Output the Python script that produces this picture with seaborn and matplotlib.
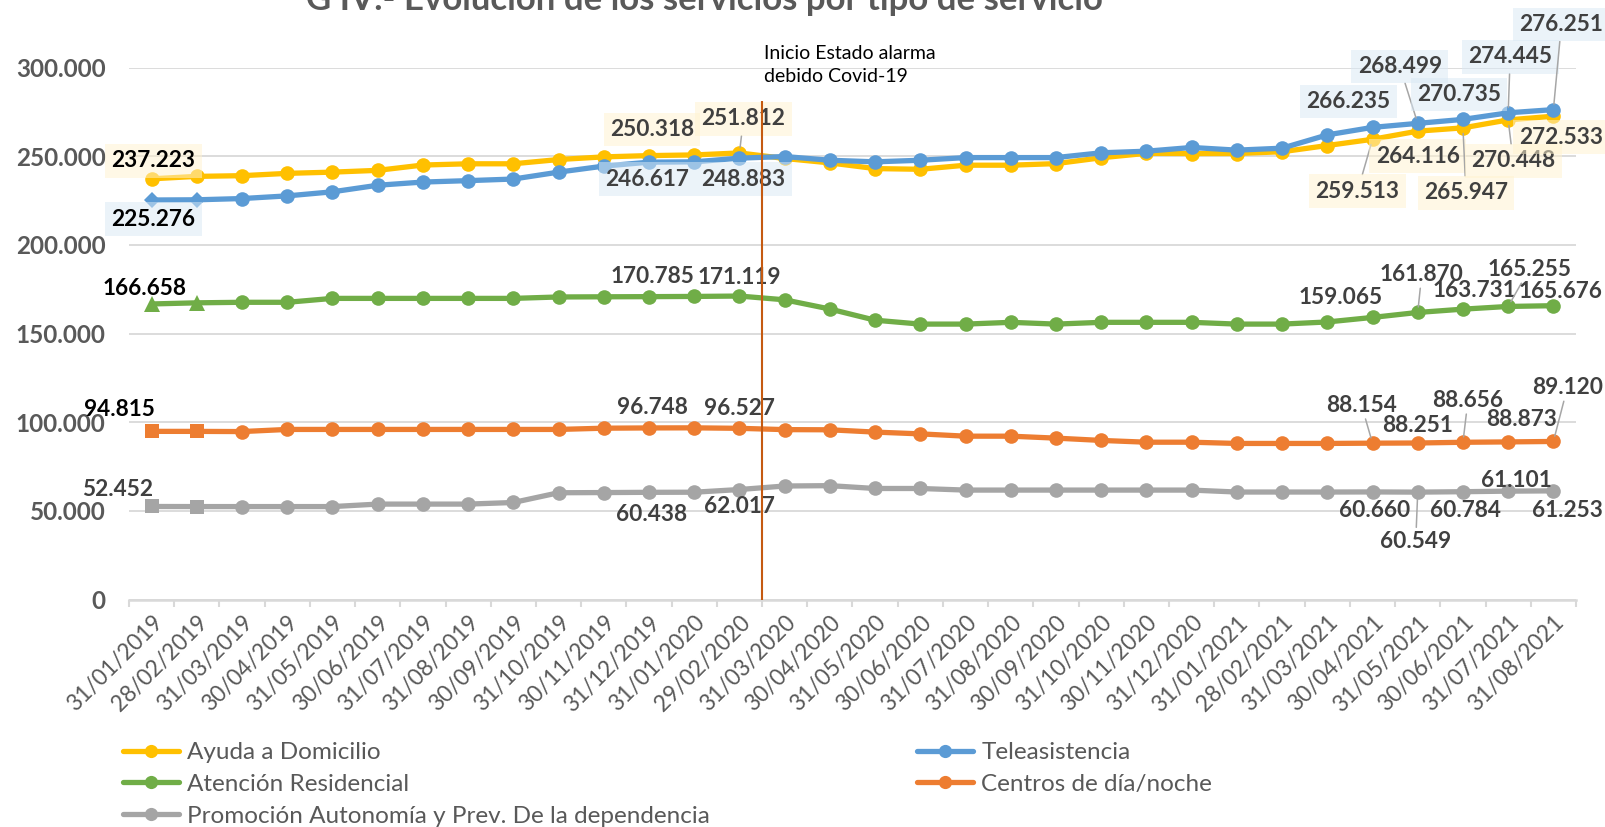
import numpy as np
import pandas as pd
import matplotlib
matplotlib.use('Agg')
import matplotlib.pyplot as plt
from matplotlib.lines import Line2D
import seaborn as sns

fechas = ['31/01/2019', '28/02/2019', '31/03/2019', '30/04/2019', '31/05/2019', '30/06/2019',
          '31/07/2019', '31/08/2019', '30/09/2019', '31/10/2019', '30/11/2019', '31/12/2019',
          '31/01/2020', '29/02/2020', '31/03/2020', '30/04/2020', '31/05/2020', '30/06/2020',
          '31/07/2020', '31/08/2020', '30/09/2020', '31/10/2020', '30/11/2020', '31/12/2020',
          '31/01/2021', '28/02/2021', '31/03/2021', '30/04/2021', '31/05/2021', '30/06/2021',
          '31/07/2021', '31/08/2021']

ayuda = [237223, 238600, 239000, 240300, 241000, 242000, 245000, 245700, 245700, 248100, 249600, 250318,
         250700, 251812, 248700, 246200, 243000, 242600, 244900, 244900, 245800, 249100, 251600, 251500,
         251500, 252500, 256000, 259513, 264116, 265947, 270448, 272533]
tele = [225276, 225400, 226100, 227600, 229900, 233600, 235400, 236200, 237100, 241000, 244400, 246617,
        246800, 248883, 249800, 247700, 246800, 247700, 249200, 249200, 249200, 251900, 252800, 254900,
        253400, 254500, 262000, 266235, 268499, 270735, 274445, 276251]
resid = [166658, 167300, 167600, 167600, 169800, 169800, 169800, 169800, 169800, 170600, 170700, 170785,
         170900, 171119, 169000, 163800, 157500, 155300, 155300, 156300, 155300, 156300, 156300, 156300,
         155300, 155300, 156500, 159065, 161870, 163731, 165255, 165676]
centros = [94815, 94800, 94700, 95900, 95900, 95900, 95900, 95900, 95900, 95900, 96600, 96748,
           96800, 96527, 95800, 95700, 94400, 93400, 92100, 92100, 91000, 89700, 88700, 88700,
           88000, 88000, 88000, 88154, 88251, 88656, 88873, 89120]
promo = [52452, 52400, 52400, 52400, 52400, 53800, 53800, 53800, 54700, 60200, 60300, 60438,
         60500, 62017, 64000, 64200, 62600, 62600, 61700, 61700, 61700, 61700, 61700, 61700,
         60600, 60600, 60600, 60660, 60549, 60784, 61101, 61253]

series = ['Ayuda a Domicilio', 'Teleasistencia', 'Atención Residencial', 'Centros de día/noche',
          'Promoción Autonomía y Prev. De la dependencia']
colors = ['#FFC000', '#5B9BD5', '#70AD47', '#ED7D31', '#A5A5A5']
first_markers = [('o', 10.5), ('D', 8.5), ('^', 11.5), ('s', 9.5), ('s', 9.5)]
box_colors = ['#FFF3CF', '#D9E8F5', None, None, None]

y_ticks = [0, 50000, 100000, 150000, 200000, 250000, 300000]

covid_x = 13.5
covid_top = 281000

# posición de las etiquetas en píxeles respecto al punto: idx -> (dx, dy, guía)
label_pos = [
    {0: (2, 18, False), 11: (3, 26, False), 13: (4, 34, True), 27: (-15, -52, True),
     28: (0, -25, False), 29: (3, -65, True), 30: (5, -41, True), 31: (8, -21, False)},
    {0: (2, -19, False), 11: (-2, -17, False), 13: (4, -21, False), 27: (-24, 26, False),
     28: (-18, 57, True), 29: (-4, 25, False), 30: (2, 56, True), 31: (8, 85, True)},
    {0: (-7, 15, False), 11: (3, 20, False), 13: (0, 19, False), 27: (-32, 20, False),
     28: (4, 38, True), 29: (11, 19, False), 30: (21, 37, True), 31: (7, 14, False)},
    {0: (-32, 22, False), 11: (3, 20, False), 13: (0, 20, False), 27: (-11, 38, True),
     28: (0, 18, False), 29: (5, 42, True), 30: (13, 22, False), 31: (14, 54, True)},
    {0: (-34, 17, False), 11: (3, -22, False), 13: (0, -17, False), 27: (2, -19, False),
     28: (-2, -49, True), 29: (3, -19, False), 30: (8, 11, False), 31: (14, -20, False)},
]

values = [ayuda, tele, resid, centros, promo]


def fmt(v):
    return f"{int(v):,}".replace(',', '.')


sns.set_theme(style='white')
plt.rcParams['font.family'] = ['Lato', 'DejaVu Sans']

fig = plt.figure(figsize=(16.06, 8.27), dpi=100)
ax = fig.add_axes([129 / 1606, 1 - 599.5 / 827, (1576 - 129) / 1606, (599.5 - 67.5) / 827])

n = len(fechas)
df = pd.DataFrame({
    'idx': np.tile(np.arange(n), len(series)),
    'valor': np.concatenate(values),
    'serie': np.repeat(series, n),
})
sns.lineplot(data=df, x='idx', y='valor', hue='serie', hue_order=series,
             palette=dict(zip(series, colors)), linewidth=3.8, sort=False,
             estimator=None, legend=False, ax=ax)
for k, line in enumerate(ax.lines):
    line.set_zorder(2 + k * 0.1)
    line.set_solid_capstyle('round')

x = np.arange(n)
for k, vals in enumerate(values):
    vals = np.array(vals)
    ax.plot(x[2:], vals[2:], 'o', ms=10.5, color=colors[k], mew=0, zorder=2.05 + k * 0.1)
    m, ms = first_markers[k]
    ax.plot(x[:2], vals[:2], m, ms=ms, color=colors[k], mew=0, zorder=2.05 + k * 0.1)

# etiquetas de datos
for k, vals in enumerate(values):
    for idx, (dx, dy, leader) in label_pos[k].items():
        col = 'black' if (idx == 0 and k < 4) else '#404040'
        bbox = None
        if box_colors[k]:
            bbox = dict(boxstyle='square,pad=0.28', fc=box_colors[k], ec='none', alpha=0.52)
        arrow = None
        if leader:
            arrow = dict(arrowstyle='-', color='#A6A6A6', lw=1.1, shrinkA=0, shrinkB=4)
        ax.annotate(fmt(vals[idx]), xy=(idx, vals[idx]), xytext=(dx, dy), textcoords='offset pixels',
                    ha='center', va='center', fontsize=16.3, fontweight='bold', color=col,
                    bbox=bbox, arrowprops=arrow, zorder=6, annotation_clip=False)

# línea del estado de alarma
ax.vlines(covid_x, 0, covid_top, color='#C55A11', lw=1.5, zorder=10, clip_on=False)
ax.annotate('Inicio Estado alarma\ndebido Covid-19', xy=(covid_x, covid_top), xytext=(2, 16),
            textcoords='offset pixels', ha='left', va='bottom', fontsize=14,
            linespacing=1.45, color='black', annotation_clip=False)

ax.set_xlim(-0.5, n - 0.5)
ax.set_ylim(0, 300000)
ax.set_yticks(y_ticks)
ax.set_yticklabels([fmt(v) for v in y_ticks], fontsize=17.5, fontweight='bold', color='#595959')
ax.tick_params(axis='y', length=0, pad=17)

ax.set_xticks(x)
ax.set_xticklabels(fechas, rotation=45, ha='right', rotation_mode='anchor',
                   fontsize=16.3, color='#595959')
ax.set_xticks(np.arange(-0.5, n, 1), minor=True)
ax.tick_params(axis='x', which='major', length=0, pad=9)
ax.tick_params(axis='x', which='minor', length=5, width=1.5, color='#D9D9D9', bottom=True)

ax.set_xlabel('')
ax.set_ylabel('')
ax.yaxis.grid(True, color='#D9D9D9', lw=1.3)
ax.set_axisbelow(True)
for s in ['left', 'right', 'top']:
    ax.spines[s].set_visible(False)
ax.spines['bottom'].set_color('#D9D9D9')
ax.spines['bottom'].set_linewidth(1.8)

fig.text(704 / 1606, 1 - 10 / 827, 'G IV.- Evolución de los servicios por tipo de servicio',
         ha='center', va='baseline', fontsize=25, fontweight='bold', color='#595959')

handles = [Line2D([], [], color=c, lw=3.8, marker='o', ms=9.5, mew=0) for c in colors]
common = dict(loc='upper left', frameon=False, fontsize=17.5, handlelength=2.3, handletextpad=0.35,
              labelspacing=0.45, borderpad=0, borderaxespad=0, labelcolor='#595959')
fig.legend([handles[0], handles[2], handles[4]], [series[0], series[2], series[4]],
           bbox_to_anchor=(123 / 1606, 1 - 742 / 827), **common)
fig.legend([handles[1], handles[3]], [series[1], series[3]],
           bbox_to_anchor=(917 / 1606, 1 - 742 / 827), **common)

fig.savefig('out.png', dpi=100)
